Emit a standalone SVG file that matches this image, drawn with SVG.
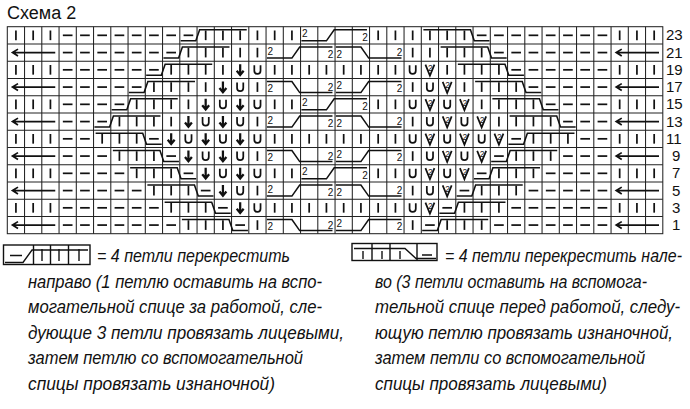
<svg xmlns="http://www.w3.org/2000/svg" xmlns:xlink="http://www.w3.org/1999/xlink" width="690" height="409" viewBox="0 0 690 409">
<style>
.s{fill:none;stroke:#111;stroke-width:.1}
.k{fill:none;stroke:#111;stroke-width:.09}
.h{fill:none;stroke:#111;stroke-width:.13}
.t2{font-family:"Liberation Sans",Arial,sans-serif;font-size:10px;fill:#111}
.t3{font-family:"Liberation Sans",Arial,sans-serif;font-size:8.5px;fill:#111}
.lg{font-family:"Liberation Sans Narrow","Liberation Sans",sans-serif;font-style:italic;font-size:18px;fill:#111}
.num{font-family:"Liberation Sans",Arial,sans-serif;font-size:15px;fill:#111}
.lb{fill:none;stroke:#111;stroke-width:1.4}
</style>
<defs>
<path id="I" class="s" d="M.5 .22V.78"/>
<path id="d" class="s" d="M.22 .5H.78"/>
<path id="D" class="h" d="M.5 .18V.78M.3 .55L.5 .8L.7 .55"/>
<path id="U" class="s" d="M.32 .24V.56A.18 .18 0 0 0 .68 .56V.24"/>
<g id="V"><path class="s" d="M.24 .2L.5 .84L.76 .2"/><text class="t3" text-anchor="middle" transform="translate(.52,.58) scale(.058)">2</text></g>
<path id="ar" class="s" d="M.3 .5H2.78M.62 .3L.3 .5L.62 .7"/>
<g id="R"><path class="k" d="M.05 .82H.93L1.15 .18H3.88"/><use xlink:href="#d"/><use xlink:href="#I" x="1"/><use xlink:href="#I" x="2"/><use xlink:href="#I" x="3"/></g>
<g id="L"><path class="k" d="M.12 .18H2.85L3.07 .82H3.95"/><use xlink:href="#I"/><use xlink:href="#I" x="1"/><use xlink:href="#I" x="2"/><use xlink:href="#d" x="3"/></g>
<g id="A"><path class="k" d="M.05 .82H1.5L1.95 .18H3.85"/><text class="t2" transform="translate(.08,.62) scale(.058)">2</text><text class="t2" text-anchor="end" transform="translate(3.9,.8) scale(.058)">2</text></g>
<g id="B"><path class="k" d="M.05 .18H1.5L1.95 .82H3.85"/><text class="t2" transform="translate(.08,.8) scale(.058)">2</text><text class="t2" text-anchor="end" transform="translate(3.9,.72) scale(.058)">2</text></g>
</defs>
<text x="7" y="19" font-family="Liberation Sans,Arial,sans-serif" font-size="18" fill="#111">Схема 2</text>
<g id="chart" transform="translate(7.3,26.7) scale(17.25)">
<g id="grid" fill="none" stroke="#222" stroke-width=".06">
<rect x="0" y="0" width="38" height="12"/>
<path d="M1 0V12M2 0V12M3 0V12M4 0V12M5 0V12M6 0V12M7 0V12M8 0V12M9 0V12M10 0V12M11 0V12M12 0V12M13 0V12M14 0V12M15 0V12M16 0V12M17 0V12M18 0V12M19 0V12M20 0V12M21 0V12M22 0V12M23 0V12M24 0V12M25 0V12M26 0V12M27 0V12M28 0V12M29 0V12M30 0V12M31 0V12M32 0V12M33 0V12M34 0V12M35 0V12M36 0V12M37 0V12M0 1H38M0 2H38M0 3H38M0 4H38M0 5H38M0 6H38M0 7H38M0 8H38M0 9H38M0 10H38M0 11H38"/>
</g>
<g id="r23"><use xlink:href="#I"/><use xlink:href="#I" x="1"/><use xlink:href="#I" x="2"/><use xlink:href="#d" x="3"/><use xlink:href="#d" x="4"/><use xlink:href="#d" x="5"/><use xlink:href="#d" x="6"/><use xlink:href="#d" x="7"/><use xlink:href="#d" x="8"/><use xlink:href="#d" x="9"/><use xlink:href="#R" x="10"/><use xlink:href="#I" x="14"/><use xlink:href="#I" x="15"/><use xlink:href="#I" x="16"/><use xlink:href="#A" x="17"/><use xlink:href="#I" x="21"/><use xlink:href="#I" x="22"/><use xlink:href="#I" x="23"/><use xlink:href="#L" x="24"/><use xlink:href="#d" x="28"/><use xlink:href="#d" x="29"/><use xlink:href="#d" x="30"/><use xlink:href="#d" x="31"/><use xlink:href="#d" x="32"/><use xlink:href="#d" x="33"/><use xlink:href="#d" x="34"/><use xlink:href="#I" x="35"/><use xlink:href="#I" x="36"/><use xlink:href="#I" x="37"/></g>
<g id="r21" transform="translate(0,1)"><use xlink:href="#ar"/><use xlink:href="#d" x="3"/><use xlink:href="#d" x="4"/><use xlink:href="#d" x="5"/><use xlink:href="#d" x="6"/><use xlink:href="#d" x="7"/><use xlink:href="#d" x="8"/><use xlink:href="#R" x="9"/><use xlink:href="#I" x="13"/><use xlink:href="#I" x="14"/><use xlink:href="#A" x="15"/><use xlink:href="#B" x="19"/><use xlink:href="#I" x="23"/><use xlink:href="#I" x="24"/><use xlink:href="#L" x="25"/><use xlink:href="#d" x="29"/><use xlink:href="#d" x="30"/><use xlink:href="#d" x="31"/><use xlink:href="#d" x="32"/><use xlink:href="#d" x="33"/><use xlink:href="#d" x="34"/><use xlink:href="#ar" x="35"/></g>
<g id="r19" transform="translate(0,2)"><use xlink:href="#I"/><use xlink:href="#I" x="1"/><use xlink:href="#I" x="2"/><use xlink:href="#d" x="3"/><use xlink:href="#d" x="4"/><use xlink:href="#d" x="5"/><use xlink:href="#d" x="6"/><use xlink:href="#d" x="7"/><use xlink:href="#R" x="8"/><use xlink:href="#I" x="12"/><use xlink:href="#D" x="13"/><use xlink:href="#U" x="14"/><use xlink:href="#I" x="15"/><use xlink:href="#I" x="16"/><use xlink:href="#I" x="17"/><use xlink:href="#I" x="18"/><use xlink:href="#I" x="19"/><use xlink:href="#I" x="20"/><use xlink:href="#I" x="21"/><use xlink:href="#I" x="22"/><use xlink:href="#U" x="23"/><use xlink:href="#V" x="24"/><use xlink:href="#I" x="25"/><use xlink:href="#L" x="26"/><use xlink:href="#d" x="30"/><use xlink:href="#d" x="31"/><use xlink:href="#d" x="32"/><use xlink:href="#d" x="33"/><use xlink:href="#d" x="34"/><use xlink:href="#I" x="35"/><use xlink:href="#I" x="36"/><use xlink:href="#I" x="37"/></g>
<g id="r17" transform="translate(0,3)"><use xlink:href="#ar"/><use xlink:href="#d" x="3"/><use xlink:href="#d" x="4"/><use xlink:href="#d" x="5"/><use xlink:href="#d" x="6"/><use xlink:href="#R" x="7"/><use xlink:href="#I" x="11"/><use xlink:href="#D" x="12"/><use xlink:href="#U" x="13"/><use xlink:href="#I" x="14"/><use xlink:href="#B" x="15"/><use xlink:href="#A" x="19"/><use xlink:href="#I" x="23"/><use xlink:href="#U" x="24"/><use xlink:href="#V" x="25"/><use xlink:href="#I" x="26"/><use xlink:href="#L" x="27"/><use xlink:href="#d" x="31"/><use xlink:href="#d" x="32"/><use xlink:href="#d" x="33"/><use xlink:href="#d" x="34"/><use xlink:href="#ar" x="35"/></g>
<g id="r15" transform="translate(0,4)"><use xlink:href="#I"/><use xlink:href="#I" x="1"/><use xlink:href="#I" x="2"/><use xlink:href="#d" x="3"/><use xlink:href="#d" x="4"/><use xlink:href="#d" x="5"/><use xlink:href="#R" x="6"/><use xlink:href="#I" x="10"/><use xlink:href="#D" x="11"/><use xlink:href="#U" x="12"/><use xlink:href="#D" x="13"/><use xlink:href="#U" x="14"/><use xlink:href="#I" x="15"/><use xlink:href="#I" x="16"/><use xlink:href="#A" x="17"/><use xlink:href="#I" x="21"/><use xlink:href="#I" x="22"/><use xlink:href="#U" x="23"/><use xlink:href="#V" x="24"/><use xlink:href="#U" x="25"/><use xlink:href="#V" x="26"/><use xlink:href="#I" x="27"/><use xlink:href="#L" x="28"/><use xlink:href="#d" x="32"/><use xlink:href="#d" x="33"/><use xlink:href="#d" x="34"/><use xlink:href="#I" x="35"/><use xlink:href="#I" x="36"/><use xlink:href="#I" x="37"/></g>
<g id="r13" transform="translate(0,5)"><use xlink:href="#ar"/><use xlink:href="#d" x="3"/><use xlink:href="#d" x="4"/><use xlink:href="#R" x="5"/><use xlink:href="#I" x="9"/><use xlink:href="#D" x="10"/><use xlink:href="#U" x="11"/><use xlink:href="#D" x="12"/><use xlink:href="#U" x="13"/><use xlink:href="#I" x="14"/><use xlink:href="#A" x="15"/><use xlink:href="#B" x="19"/><use xlink:href="#I" x="23"/><use xlink:href="#U" x="24"/><use xlink:href="#V" x="25"/><use xlink:href="#U" x="26"/><use xlink:href="#V" x="27"/><use xlink:href="#I" x="28"/><use xlink:href="#L" x="29"/><use xlink:href="#d" x="33"/><use xlink:href="#d" x="34"/><use xlink:href="#ar" x="35"/></g>
<g id="r11" transform="translate(0,6)"><use xlink:href="#I"/><use xlink:href="#I" x="1"/><use xlink:href="#I" x="2"/><use xlink:href="#d" x="3"/><use xlink:href="#d" x="4"/><use xlink:href="#L" x="5"/><use xlink:href="#D" x="9"/><use xlink:href="#U" x="10"/><use xlink:href="#D" x="11"/><use xlink:href="#U" x="12"/><use xlink:href="#D" x="13"/><use xlink:href="#U" x="14"/><use xlink:href="#I" x="15"/><use xlink:href="#I" x="16"/><use xlink:href="#I" x="17"/><use xlink:href="#I" x="18"/><use xlink:href="#I" x="19"/><use xlink:href="#I" x="20"/><use xlink:href="#I" x="21"/><use xlink:href="#I" x="22"/><use xlink:href="#U" x="23"/><use xlink:href="#V" x="24"/><use xlink:href="#U" x="25"/><use xlink:href="#V" x="26"/><use xlink:href="#U" x="27"/><use xlink:href="#V" x="28"/><use xlink:href="#R" x="29"/><use xlink:href="#d" x="33"/><use xlink:href="#d" x="34"/><use xlink:href="#I" x="35"/><use xlink:href="#I" x="36"/><use xlink:href="#I" x="37"/></g>
<g id="r9" transform="translate(0,7)"><use xlink:href="#ar"/><use xlink:href="#d" x="3"/><use xlink:href="#d" x="4"/><use xlink:href="#d" x="5"/><use xlink:href="#L" x="6"/><use xlink:href="#D" x="10"/><use xlink:href="#U" x="11"/><use xlink:href="#D" x="12"/><use xlink:href="#U" x="13"/><use xlink:href="#I" x="14"/><use xlink:href="#B" x="15"/><use xlink:href="#A" x="19"/><use xlink:href="#I" x="23"/><use xlink:href="#U" x="24"/><use xlink:href="#V" x="25"/><use xlink:href="#U" x="26"/><use xlink:href="#V" x="27"/><use xlink:href="#R" x="28"/><use xlink:href="#d" x="32"/><use xlink:href="#d" x="33"/><use xlink:href="#d" x="34"/><use xlink:href="#ar" x="35"/></g>
<g id="r7" transform="translate(0,8)"><use xlink:href="#I"/><use xlink:href="#I" x="1"/><use xlink:href="#I" x="2"/><use xlink:href="#d" x="3"/><use xlink:href="#d" x="4"/><use xlink:href="#d" x="5"/><use xlink:href="#d" x="6"/><use xlink:href="#L" x="7"/><use xlink:href="#D" x="11"/><use xlink:href="#U" x="12"/><use xlink:href="#D" x="13"/><use xlink:href="#U" x="14"/><use xlink:href="#I" x="15"/><use xlink:href="#I" x="16"/><use xlink:href="#A" x="17"/><use xlink:href="#I" x="21"/><use xlink:href="#I" x="22"/><use xlink:href="#U" x="23"/><use xlink:href="#V" x="24"/><use xlink:href="#U" x="25"/><use xlink:href="#V" x="26"/><use xlink:href="#R" x="27"/><use xlink:href="#d" x="31"/><use xlink:href="#d" x="32"/><use xlink:href="#d" x="33"/><use xlink:href="#d" x="34"/><use xlink:href="#I" x="35"/><use xlink:href="#I" x="36"/><use xlink:href="#I" x="37"/></g>
<g id="r5" transform="translate(0,9)"><use xlink:href="#ar"/><use xlink:href="#d" x="3"/><use xlink:href="#d" x="4"/><use xlink:href="#d" x="5"/><use xlink:href="#d" x="6"/><use xlink:href="#d" x="7"/><use xlink:href="#L" x="8"/><use xlink:href="#D" x="12"/><use xlink:href="#U" x="13"/><use xlink:href="#I" x="14"/><use xlink:href="#A" x="15"/><use xlink:href="#B" x="19"/><use xlink:href="#I" x="23"/><use xlink:href="#U" x="24"/><use xlink:href="#V" x="25"/><use xlink:href="#R" x="26"/><use xlink:href="#d" x="30"/><use xlink:href="#d" x="31"/><use xlink:href="#d" x="32"/><use xlink:href="#d" x="33"/><use xlink:href="#d" x="34"/><use xlink:href="#ar" x="35"/></g>
<g id="r3" transform="translate(0,10)"><use xlink:href="#I"/><use xlink:href="#I" x="1"/><use xlink:href="#I" x="2"/><use xlink:href="#d" x="3"/><use xlink:href="#d" x="4"/><use xlink:href="#d" x="5"/><use xlink:href="#d" x="6"/><use xlink:href="#d" x="7"/><use xlink:href="#d" x="8"/><use xlink:href="#L" x="9"/><use xlink:href="#D" x="13"/><use xlink:href="#U" x="14"/><use xlink:href="#I" x="15"/><use xlink:href="#I" x="16"/><use xlink:href="#I" x="17"/><use xlink:href="#I" x="18"/><use xlink:href="#I" x="19"/><use xlink:href="#I" x="20"/><use xlink:href="#I" x="21"/><use xlink:href="#I" x="22"/><use xlink:href="#U" x="23"/><use xlink:href="#V" x="24"/><use xlink:href="#R" x="25"/><use xlink:href="#d" x="29"/><use xlink:href="#d" x="30"/><use xlink:href="#d" x="31"/><use xlink:href="#d" x="32"/><use xlink:href="#d" x="33"/><use xlink:href="#d" x="34"/><use xlink:href="#I" x="35"/><use xlink:href="#I" x="36"/><use xlink:href="#I" x="37"/></g>
<g id="r1" transform="translate(0,11)"><use xlink:href="#ar"/><use xlink:href="#d" x="3"/><use xlink:href="#d" x="4"/><use xlink:href="#d" x="5"/><use xlink:href="#d" x="6"/><use xlink:href="#d" x="7"/><use xlink:href="#d" x="8"/><use xlink:href="#d" x="9"/><use xlink:href="#L" x="10"/><use xlink:href="#I" x="14"/><use xlink:href="#B" x="15"/><use xlink:href="#A" x="19"/><use xlink:href="#I" x="23"/><use xlink:href="#R" x="24"/><use xlink:href="#d" x="28"/><use xlink:href="#d" x="29"/><use xlink:href="#d" x="30"/><use xlink:href="#d" x="31"/><use xlink:href="#d" x="32"/><use xlink:href="#d" x="33"/><use xlink:href="#d" x="34"/><use xlink:href="#ar" x="35"/></g>
</g>
<g id="rownums" class="num">
<text x="666" y="40">23</text><text x="666" y="57.5">21</text><text x="666" y="74.7">19</text><text x="666" y="92">17</text><text x="666" y="109.2">15</text><text x="666" y="126.5">13</text><text x="666" y="143.7">11</text><text x="672" y="161">9</text><text x="672" y="178.2">7</text><text x="672" y="195.5">5</text><text x="672" y="212.7">3</text><text x="672" y="230">1</text>
</g>
<g id="legend-right-cross">
<rect class="lb" x="3.5" y="245" width="86.5" height="19.5"/>
<path class="lb" d="M33.5 245V264.5M50.5 245V264.5M68.5 245V264.5"/>
<path class="lb" d="M5 262.5H23L32 250H88M10 255.5H22M42 249V261M59 249V261M79 249V261"/>
<text class="lg" x="97" y="262" textLength="193" lengthAdjust="spacingAndGlyphs">= 4 петли перекрестить</text>
<text class="lg" x="28" y="287.5" textLength="294" lengthAdjust="spacingAndGlyphs">направо (1 петлю оставить на вспо-</text>
<text class="lg" x="28" y="313" textLength="294" lengthAdjust="spacingAndGlyphs">могательной спице за работой, сле-</text>
<text class="lg" x="28" y="338.5" textLength="316" lengthAdjust="spacingAndGlyphs">дующие 3 петли провязать лицевыми,</text>
<text class="lg" x="28" y="364" textLength="275" lengthAdjust="spacingAndGlyphs">затем петлю со вспомогательной</text>
<text class="lg" x="28" y="389.5" textLength="247" lengthAdjust="spacingAndGlyphs">спицы провязать изнаночной)</text>
</g>
<g id="legend-left-cross">
<rect class="lb" x="352" y="243.5" width="85" height="17"/>
<path class="lb" d="M372 243.5V260.5M390 243.5V260.5M417 243.5V260.5"/>
<path class="lb" d="M354 248.5H405L416 258.5H436M363 251V259M382 251V259M400 251V259M422 255H432"/>
<text class="lg" x="445" y="262" textLength="237" lengthAdjust="spacingAndGlyphs">= 4 петли перекрестить нале-</text>
<text class="lg" x="375" y="287.5" textLength="272" lengthAdjust="spacingAndGlyphs">во (3 петли оставить на вспомога-</text>
<text class="lg" x="375" y="313" textLength="305" lengthAdjust="spacingAndGlyphs">тельной спице перед работой, следу-</text>
<text class="lg" x="375" y="338.5" textLength="298" lengthAdjust="spacingAndGlyphs">ющую петлю провязать изнаночной,</text>
<text class="lg" x="375" y="364" textLength="270" lengthAdjust="spacingAndGlyphs">затем петли со вспомогательной</text>
<text class="lg" x="375" y="389.5" textLength="232" lengthAdjust="spacingAndGlyphs">спицы провязать лицевыми)</text>
</g>
</svg>
